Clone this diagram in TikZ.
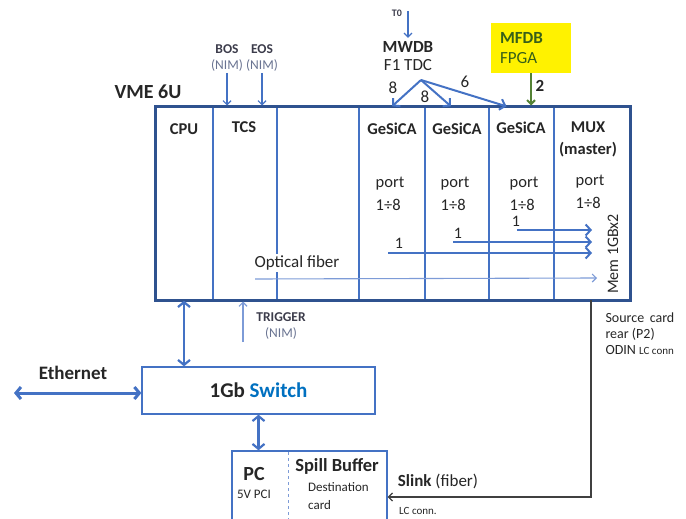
\documentclass[tikz,border=0pt]{standalone}
\usepackage{fontspec}
\setmainfont{Carlito}
\usepackage{tikz}
\usetikzlibrary{arrows.meta,positioning,calc}
\definecolor{crateblue}{RGB}{47,82,143}
\definecolor{slotblue}{RGB}{68,114,196}
\definecolor{fiberblue}{RGB}{125,155,215}
\definecolor{switchblue}{RGB}{0,112,192}
\definecolor{txt}{RGB}{38,38,38}
\definecolor{nimgray}{RGB}{105,115,145}
\definecolor{sigtxt}{RGB}{60,60,75}
\definecolor{fpgatxt}{RGB}{55,95,25}
\definecolor{fpgagreen}{RGB}{84,130,53}
\definecolor{slinkgray}{RGB}{64,64,64}
\newcommand{\fsz}[2]{\fontsize{#1}{#2}\selectfont}
\tikzset{
	slot/.style={draw=slotblue, line width=1.3pt, minimum height=193pt, inner sep=0pt},
	crate/.style={draw=crateblue, line width=3pt, minimum width=475pt,
		minimum height=193pt, inner sep=0pt},
	box/.style={draw=slotblue, line width=1.3pt, inner sep=0pt},
	hd/.style={font=\fsz{16.5}{22}\bfseries, text=txt, align=center, inner sep=1pt},
	port/.style={font=\fsz{16.5}{23}, text=txt, align=left, inner sep=1pt},
	num/.style={font=\fsz{16}{18}, text=txt, inner sep=1pt},
	nim/.style={font=\fsz{13.5}{16.5}, text=nimgray, align=center, inner sep=1pt},
	note/.style={font=\fsz{13}{18}, text=txt, align=left, inner sep=1pt},
	link/.style={draw=slotblue, line width=2pt, -{Straight Barb[length=5pt,width=11pt]}},
	sig/.style={draw=slotblue, line width=1.2pt, -{Straight Barb[length=4pt,width=8pt]}},
	duplex/.style={draw=slotblue, line width=2.2pt,
		{Straight Barb[length=5pt,width=12pt]}-{Straight Barb[length=5pt,width=12pt]}},
}
\begin{document}
\begin{tikzpicture}[x=1pt, y=-1pt]
				\useasboundingbox (0,0) rectangle (686,519);
				% VME crate and slots
				\node[slot, minimum width=58pt] at (184,203.5) (cpu) {};
				\node[slot, minimum width=64pt] at (245,203.5) (tcs) {};
				\node[slot, minimum width=82pt] at (318,203.5) (free) {};
				\node[slot, minimum width=66pt] at (392,203.5) (gs1) {};
				\node[slot, minimum width=64pt] at (457,203.5) (gs2) {};
				\node[slot, minimum width=65pt] at (521.5,203.5) (gs3) {};
				\node[slot, minimum width=76pt] at (592,203.5) (mux) {};
				\node[crate] at (392.5,203.5) (vme) {};
				\node[font=\fsz{20}{22}\bfseries, text=txt] at (148,92) (vmet) {VME 6U};
				\node[hd] at (184,129) (cput) {CPU};
				\node[hd] at (244,127) (tcst) {TCS};
				\node[hd] at (392,129) (gs1t) {GeSiCA};
				\node[hd] at (457,129) (gs2t) {GeSiCA};
				\node[hd] at (521,128) (gs3t) {GeSiCA};
				\node[hd] at (588,139) (muxt) {MUX\\(master)};
				\node[port] at (390,194) (gs1p) {port\\1÷8};
				\node[port] at (455,194) (gs2p) {port\\1÷8};
				\node[port] at (524,194) (gs3p) {port\\1÷8};
				\node[port] at (590,192) (muxp) {port\\1÷8};
				% links to the MUX
				\coordinate (l1a) at (388,253); \coordinate (l1b) at (592,253);
				\coordinate (l2a) at (453,242); \coordinate (l2b) at (592,242);
				\coordinate (l3a) at (517,230); \coordinate (l3b) at (592,230);
				\node[num] at (399,243) (l1n) {1};
				\node[num] at (458,233) (l2n) {1};
				\node[num] at (516,221) (l3n) {1};
				\draw[link] (l1a) -- (l1b);
				\draw[link] (l2a) -- (l2b);
				\draw[link] (l3a) -- (l3b);
				\node[font=\fsz{17}{20}, text=txt, fill=white, inner sep=2pt] at (297,263) (optt) {Optical fiber};
				\coordinate (opta) at (255,279); \coordinate (optb) at (597,278);
				\draw[draw=fiberblue, line width=1.1pt, -{Straight Barb[length=4pt,width=8pt]}] (opta) -- (optb);
				\node[font=\fsz{16}{18}, text=txt, rotate=90] at (613,254) (mem) {Mem 1GBx2};
				% inputs from the top
				\node[nim] at (227,58) (bos) {\textcolor{sigtxt}{\bfseries BOS}\\(NIM)};
				\node[nim] at (262,58) (eos) {\textcolor{sigtxt}{\bfseries EOS}\\(NIM)};
				\draw[sig] (bos.south) -- (bos.south |- vme.north);
				\draw[sig] (eos.south) -- (eos.south |- vme.north);
				\node[font=\fsz{10}{12}\bfseries, text=sigtxt] at (397,13) (t0) {T0};
				\node[font=\fsz{17}{18}, text=txt, align=center] at (408,56) (mwdb) {\textbf{MWDB}\\F1 TDC};
				\coordinate (t0a) at (408,11);
				\draw[sig] (t0a) -- (mwdb.north);
				\coordinate (tdc) at (421,80);
				\draw[link] (tdc) -- (gs1.north);
				\draw[link] (tdc) -- ([xshift=-6pt]gs2.north);
				\draw[link] (tdc) -- ([xshift=-15pt]gs3.north);
				\node[num, font=\fsz{17}{18}] at (393,88) (n8a) {8};
				\node[num, font=\fsz{17}{18}] at (425,97) (n8b) {8};
				\node[num, font=\fsz{17}{18}] at (465,82) (n6) {6};
				\node[fill=yellow, text=fpgatxt, font=\fsz{17}{20}, align=left, text width=62pt,
					minimum width=80pt, minimum height=50pt, inner sep=0pt] at (531,48) (mfdb) {\textbf{MFDB}\\FPGA};
				\draw[draw=fpgagreen, line width=2pt, -{Straight Barb[length=4pt,width=8pt]}] (mfdb.south) -- (mfdb.south |- vme.north);
				\node[num, font=\fsz{17}{18}\bfseries] at (540,86) (n2) {2};
				% switch and PC
				\node[box, minimum width=233pt, minimum height=47pt, font=\fsz{21}{22}\bfseries, text=txt] at (258.5,390.5) (sw) {1Gb \textcolor{switchblue}{Switch}};
				\draw[duplex] (cpu.south) -- (cpu.south |- sw.north);
				\coordinate (trg) at (243,342);
				\draw[sig, draw=fiberblue] (trg) -- (trg |- vme.south);
				\node[nim] at (281,326) (trig) {\textcolor{sigtxt}{\bfseries TRIGGER}\\(NIM)};
				\coordinate (eth) at (14,393);
				\draw[duplex, line width=3pt] (eth) -- (eth -| sw.west);
				\node[font=\fsz{19}{20}\bfseries, text=txt] at (73,373) (etht) {Ethernet};
				\node[box, minimum width=155pt, minimum height=74pt] at (309.5,488) (pc) {};
				\draw[duplex] (sw.south) -- (sw.south |- pc.north);
				\coordinate (pcdiv) at (288,452);
				\draw[draw=fiberblue, line width=1pt, dashed] (pcdiv) -- (pcdiv |- pc.south);
				\node[font=\fsz{20}{22}\bfseries, text=txt] at (254,474) (pct) {PC};
				\node[font=\fsz{13}{14}, text=txt] at (254,494) (pcpci) {5V PCI};
				\node[font=\fsz{18.5}{20}\bfseries, text=txt] at (337,466) (spill) {Spill Buffer};
				\node[note, anchor=west] at (307,496) (dest) {Destination\\card};
				% Slink
				\coordinate (src) at (591,300);
				\coordinate (slk) at (591,497);
				\draw[draw=slinkgray, line width=1.3pt, -{Straight Barb[length=4pt,width=8pt]}] (src) -- (slk) -- (slk -| pc.east);
				\node[font=\fsz{14}{16}, text=txt, align=left, anchor=west] at (602,334) (srct) {Source\, card\\rear (P2)\\ODIN {\fsz{11}{16}LC conn}};
				\node[font=\fsz{17}{18}, text=txt] at (438,481) (slkt) {\textbf{Slink} (fiber)};
				\node[font=\fsz{11}{12}, text=txt] at (418,511) (lct) {LC conn.};
			\end{tikzpicture}
\end{document}
